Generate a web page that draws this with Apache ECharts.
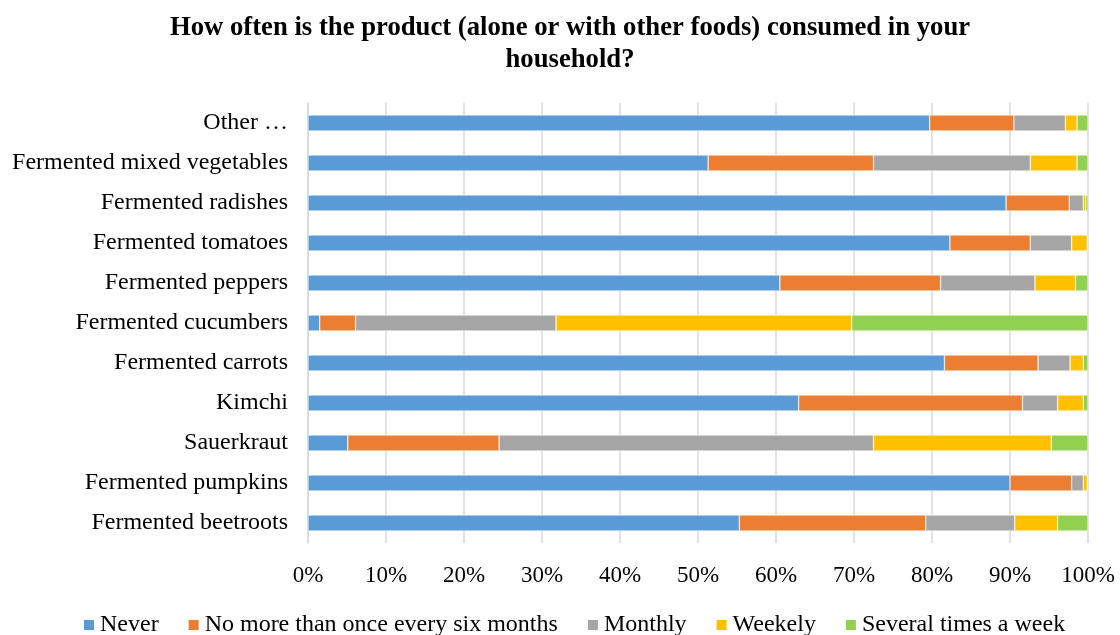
<!DOCTYPE html>
<html>
<head>
<meta charset="utf-8">
<script src="https://cdn.jsdelivr.net/npm/echarts@6/dist/echarts.min.js"></script>
<style>
    html, body { margin: 0; padding: 0; background: #fff; }
    #chart { width: 1120px; height: 635px; }
</style>
</head>
<body>
<div id="chart"></div>
<script>
// bottom to top, as ECharts draws a category y axis
const categories = [
    "Fermented beetroots", "Fermented pumpkins", "Sauerkraut", "Kimchi",
    "Fermented carrots", "Fermented cucumbers", "Fermented peppers",
    "Fermented tomatoes", "Fermented radishes", "Fermented mixed vegetables", "Other …"
];

const never =   [55.3, 90.0,  5.1, 62.9, 81.6,  1.5, 60.5, 82.3, 89.5, 51.3, 79.7];
const sixMonths = [23.9, 7.9, 19.4, 28.7, 12.0,  4.6, 20.6, 10.3,  8.1, 21.2, 10.8];
const monthly = [11.4,  1.5, 48.0,  4.5,  4.1, 25.7, 12.1,  5.3,  1.8, 20.1,  6.6];
const weekly =  [ 5.5,  0.5, 22.8,  3.3,  1.7, 37.9,  5.2,  2.0,  0.3,  6.0,  1.5];
const several = [ 3.9,  0.1,  4.7,  0.6,  0.6, 30.3,  1.6,  0.1,  0.3,  1.4,  1.4];

const seriesNames = ["Never", "No more than once every six months", "Monthly", "Weekely", "Several times a week"];
const seriesData = [never, sixMonths, monthly, weekly, several];
const colorPalette = ["#5B9BD5", "#ED7D31", "#A5A5A5", "#FFC000", "#92D050"];

const serif = "'Liberation Serif', 'Times New Roman', serif";

const chart = echarts.init(document.getElementById("chart"));

chart.setOption({
    animation: false,
    color: colorPalette,
    backgroundColor: "#fff",
    title: {
        text: "How often is the product (alone or with other foods) consumed in your\nhousehold?",
        left: 565,
        textAlign: "center",
        top: 7,
        textStyle: {
            fontFamily: serif,
            fontSize: 26.7,
            fontWeight: "bold",
            color: "#000",
            lineHeight: 32
        }
    },
    grid: {
        left: 308,
        right: 32,
        top: 103,
        bottom: 92
    },
    legend: {
        data: seriesNames,
        top: 608,
        left: 77,
        itemWidth: 12,
        itemHeight: 12,
        itemGap: 28,
        icon: "rect",
        textStyle: {
            fontFamily: serif,
            fontSize: 24,
            color: "#000"
        }
    },
    xAxis: {
        type: "value",
        min: 0,
        max: 100,
        interval: 10,
        axisLabel: {
            formatter: "{value}%",
            fontFamily: serif,
            fontSize: 23,
            color: "#000",
            margin: 21
        },
        axisLine: { show: false },
        axisTick: { show: false },
        splitLine: { lineStyle: { color: "#d9d9d9", width: 1.5 } }
    },
    yAxis: {
        type: "category",
        data: categories,
        axisLabel: {
            fontFamily: serif,
            fontSize: 24,
            color: "#000",
            margin: 20
        },
        axisLine: { show: true, lineStyle: { color: "#d9d9d9", width: 1.5 } },
        axisTick: { show: false },
        splitLine: { show: false }
    },
    series: seriesNames.map((name, i) => ({
        name: name,
        type: "bar",
        stack: "total",
        barWidth: "40%",
        data: seriesData[i],
        itemStyle: { borderColor: "#fff", borderWidth: 0.5 }
    }))
});
</script>
</body>
</html>
